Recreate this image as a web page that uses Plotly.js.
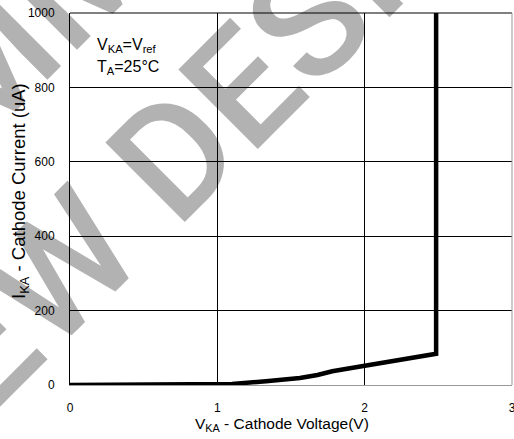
<!DOCTYPE html>
<html>
<head>
<meta charset="utf-8">
<script src="https://cdn.plot.ly/plotly-3.0.1.min.js"></script>
<style>html,body{margin:0;padding:0;background:#fff;}#chart{width:514px;height:439px;}</style>
</head>
<body>
<div id="chart"></div>
<script>
// Data
const voltage = [0, 1.0, 1.1, 1.33, 1.56, 1.68, 1.78, 1.9, 2.0, 2.25, 2.485, 2.485];
const current = [0, 0, 3, 10, 19, 27, 37, 45, 52, 67, 84, 1000];
const xTicks = [0, 1, 2, 3];
const yTicks = [0, 200, 400, 600, 800, 1000];
const watermarkLines = ['NOT RECOMMENDED FOR', 'NEW DESIGN'];

const FONT = 'Liberation Sans, Arial, sans-serif';
const WM_FONT = 'Roboto, Liberation Sans, sans-serif';

// plot-area pixel geometry (for placing text in paper coords)
const PL = 70, PR = 512, PT = 13, PB = 385;
const px = x => (x - PL) / (PR - PL);
const py = y => (PB - y) / (PB - PT);

const trace = {
  x: voltage, y: current, type: 'scatter', mode: 'lines',
  line: {color: '#000', width: 4.5}, hoverinfo: 'skip', cliponaxis: false
};

function watermark(text, cx, cy) {
  return {
    type: 'rect', xref: 'paper', yref: 'paper', layer: 'below',
    x0: px(cx - 1), x1: px(cx + 1), y0: py(cy + 1), y1: py(cy - 1),
    line: {width: 0}, fillcolor: 'rgba(0,0,0,0)',
    label: {text: text, textangle: -45, textposition: 'middle center',
            font: {family: WM_FONT, size: 158, weight: 500, color: '#b2b2b2'}}
  };
}

const layout = {
  width: 514, height: 439,
  margin: {l: 70, r: 2, t: 13, b: 54, pad: 0},
  paper_bgcolor: '#fff', plot_bgcolor: 'rgba(0,0,0,0)',
  showlegend: false,
  font: {family: FONT, color: '#000', size: 12},
  xaxis: {
    range: [0, 3], tickvals: xTicks, ticktext: xTicks.map(String),
    showgrid: true, gridcolor: '#000', gridwidth: 1,
    zeroline: false, showline: true, linecolor: '#999', linewidth: 1,
    ticks: '', ticklabelstandoff: 12, ticklabeloverflow: 'allow',
    tickfont: {size: 12, family: FONT}
  },
  yaxis: {
    range: [0, 1000], tickvals: yTicks, ticktext: yTicks.map(String),
    showgrid: true, gridcolor: '#000', gridwidth: 1,
    zeroline: false, showline: true, linecolor: '#000', linewidth: 1,
    ticks: '', ticklabelstandoff: 12, ticklabeloverflow: 'allow',
    tickfont: {size: 12, family: FONT}
  },
  shapes: [
    watermark(watermarkLines[0], 52, -17),
    watermark(watermarkLines[1], 192, 123),
    {type: 'line', xref: 'paper', yref: 'paper', x0: 0, x1: 1, y0: 1, y1: 1, line: {color: '#000', width: 1}},
    {type: 'line', xref: 'paper', yref: 'paper', x0: 1, x1: 1, y0: 0, y1: 1, line: {color: '#999', width: 1}}
  ],
  annotations: [
    {text: 'V<sub>KA</sub>=V<sub>ref</sub>', xref: 'paper', yref: 'paper',
     x: px(95), y: py(45), xanchor: 'left', yanchor: 'middle',
     showarrow: false, font: {family: FONT, size: 16, color: '#000'}},
    {text: 'T<sub>A</sub>=25°C', xref: 'paper', yref: 'paper',
     x: px(95), y: py(67), xanchor: 'left', yanchor: 'middle',
     showarrow: false, font: {family: FONT, size: 16, color: '#000'}},
    {text: 'V<sub>KA</sub> - Cathode Voltage(V)', xref: 'paper', yref: 'paper',
     x: px(282), y: py(425), xanchor: 'center', yanchor: 'middle',
     showarrow: false, font: {family: FONT, size: 15.5, color: '#000'}},
    {text: 'I<sub>KA</sub> - Cathode Current (uA)', xref: 'paper', yref: 'paper',
     x: px(20), y: py(191), xanchor: 'center', yanchor: 'middle',
     textangle: -90, showarrow: false, font: {family: FONT, size: 18.5, color: '#000'}}
  ]
};

Plotly.newPlot('chart', [trace], layout, {staticPlot: true, displayModeBar: false});
</script>
</body>
</html>
